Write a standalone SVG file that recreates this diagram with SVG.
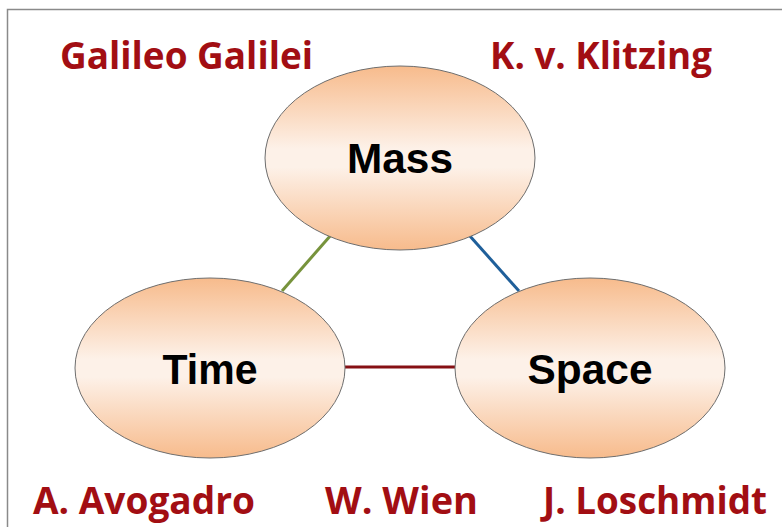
<svg xmlns="http://www.w3.org/2000/svg" width="782" height="527" viewBox="0 0 782 527">
<style>
.node{stroke:#6e6e6e;stroke-width:1;fill:url(#peach)}
.lbl{font-family:"Liberation Sans",Arial,sans-serif;font-weight:bold;font-size:42px;fill:#000;text-anchor:middle}
.name{font-family:"Open Sans","Noto Sans",sans-serif;font-weight:bold;font-size:37px;fill:#a20e13}
.conn{stroke-width:3;fill:none}
</style>
<defs>
<linearGradient id="peach" x1="0" y1="0" x2="0" y2="1">
<stop offset="0" stop-color="#f7bb8c"/>
<stop offset="0.45" stop-color="#fdf1e8"/>
<stop offset="0.55" stop-color="#fdf1e8"/>
<stop offset="1" stop-color="#f7bb8c"/>
</linearGradient>
</defs>
<rect x="0" y="0" width="782" height="527" fill="#fff"/>
<rect x="7.5" y="9.5" width="800" height="540" fill="none" stroke="#8a8a8a" stroke-width="1.5"/>
<g id="connectors">
<line class="conn" x1="282" y1="291" x2="331" y2="235" stroke="#77933c"/>
<line class="conn" x1="469" y1="235" x2="519" y2="291" stroke="#1f5f9a"/>
<line class="conn" x1="345" y1="367" x2="455" y2="367" stroke="#861014"/>
</g>
<g id="mass"><ellipse class="node" cx="400" cy="158" rx="135" ry="92"/><text class="lbl" x="400" y="173" textLength="106" lengthAdjust="spacingAndGlyphs">Mass</text></g>
<g id="time"><ellipse class="node" cx="210" cy="368" rx="135" ry="90"/><text class="lbl" x="210" y="384" textLength="95" lengthAdjust="spacingAndGlyphs">Time</text></g>
<g id="space"><ellipse class="node" cx="590" cy="368" rx="135" ry="90"/><text class="lbl" x="590" y="384" textLength="125" lengthAdjust="spacingAndGlyphs">Space</text></g>
<g id="names">
<text class="name" x="60" y="69" textLength="253" lengthAdjust="spacingAndGlyphs">Galileo Galilei</text>
<text class="name" x="490" y="69" textLength="222" lengthAdjust="spacingAndGlyphs">K. v. Klitzing</text>
<text class="name" x="33" y="514" textLength="222" lengthAdjust="spacingAndGlyphs">A. Avogadro</text>
<text class="name" x="325" y="514" textLength="153" lengthAdjust="spacingAndGlyphs">W. Wien</text>
<text class="name" x="543" y="514" textLength="224" lengthAdjust="spacingAndGlyphs">J. Loschmidt</text>
</g>
</svg>
